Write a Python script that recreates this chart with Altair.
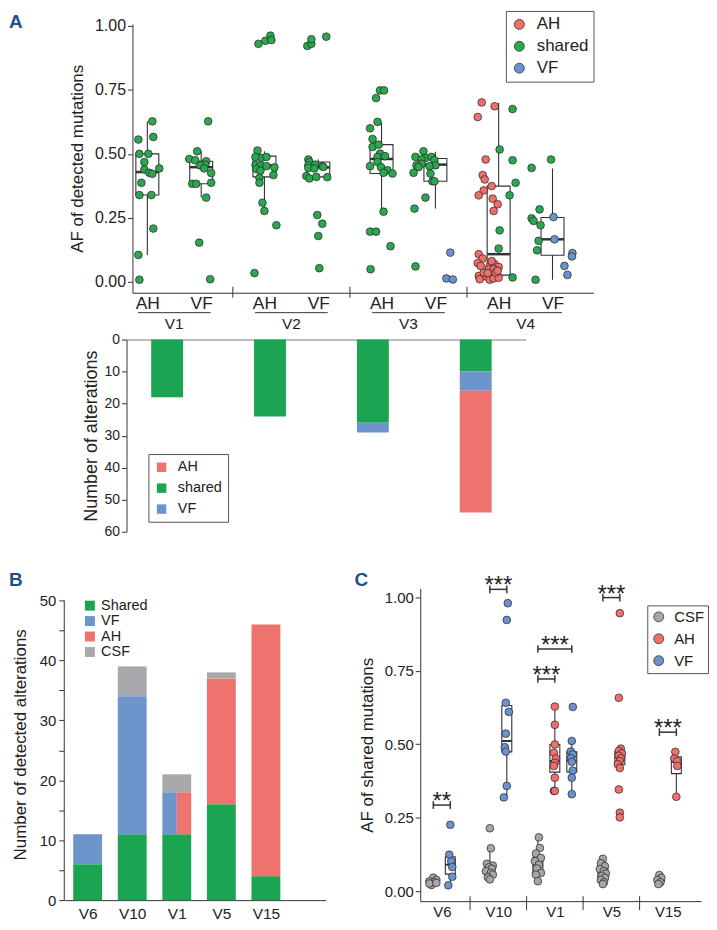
import json
import altair as alt
import pandas as pd

FONT = "Liberation Sans"
INK = "#333333"
PANEL_BLUE = "#1d4f8d"
RED, GREEN, BLUE, GRAY = "#EE736E", "#1BA552", "#6E95CB", "#A9A9AD"
DOT_RED, DOT_GREEN, DOT_BLUE, DOT_GRAY = "#EF6F6A", "#2BA84F", "#6A93CD", "#A6A6A6"

# =============== Panel A (top): AF of detected mutations ===============
a_groups = ["V1", "V2", "V3", "V4"]
a_sub_group = ["V1", "V1", "V2", "V2", "V3", "V3", "V4", "V4"]
a_sub_tissue = ["AH", "VF", "AH", "VF", "AH", "VF", "AH", "VF"]
a_box_lo = [0.105, 0.329, 0.277, 0.404, 0.274, 0.286, 0.008, 0.008]
a_box_q1 = [0.339, 0.383, 0.410, 0.410, 0.423, 0.393, 0.026, 0.104]
a_box_med = [0.429, 0.448, 0.455, 0.447, 0.480, 0.458, 0.108, 0.166]
a_box_q3 = [0.500, 0.471, 0.491, 0.468, 0.536, 0.482, 0.374, 0.251]
a_box_hi = [0.627, 0.510, 0.510, 0.478, 0.621, 0.508, 0.699, 0.443]

v1_ah_af = [0.627, 0.556, 0.566, 0.50, 0.50, 0.468, 0.439, 0.426, 0.422, 0.443, 0.387, 0.339, 0.339, 0.208, 0.105, 0.008]
v1_ah_dx = [5, -9, 6, -8, 1, -3, -3, 2, 5, 12, -6, -8, 4, 6, -9, -8]
v1_vf_af = [0.627, 0.51, 0.48, 0.475, 0.471, 0.458, 0.455, 0.443, 0.425, 0.383, 0.383, 0.387, 0.329, 0.153, 0.01]
v1_vf_dx = [7, -4, -12, -6, 5, 4, -1, 3, 10, -9, -5, 10, 5, -2, 9]
v2_ah_af = [0.93, 0.942, 0.962, 0.945, 0.513, 0.484, 0.488, 0.488, 0.456, 0.455, 0.452, 0.447, 0.441, 0.434, 0.417, 0.406, 0.387, 0.309, 0.277, 0.221, 0.034]
v2_ah_dx = [-6, 1, 6, 7, -7, -3, 2, -9, -9, -4, 2, 10, -8, -4, 9, -5, -5, -2, 0, 12, -10]
v2_vf_af = [0.922, 0.93, 0.948, 0.958, 0.478, 0.468, 0.458, 0.455, 0.452, 0.445, 0.443, 0.449, 0.413, 0.404, 0.41, 0.409, 0.261, 0.227, 0.179, 0.053]
v2_vf_dx = [-11, -7, -7, 8, -10, -9, -3, -10, 4, -10, -4, 5, -12, -9, -2, 9, -1, 4, 0, 1]
v3_ah_af = [0.748, 0.748, 0.718, 0.625, 0.60, 0.558, 0.527, 0.536, 0.501, 0.488, 0.491, 0.468, 0.452, 0.448, 0.436, 0.426, 0.423, 0.274, 0.196, 0.196, 0.139, 0.049]
v3_ah_dx = [-1.5, 2.5, -5.5, -4, -11.5, -9, -9, -3, -1.5, -4, 3.5, -4, -11.5, -0.5, 6, 2, 11, 2, -11.5, -5.5, 9, -11]
v3_vf_af = [0.51, 0.488, 0.484, 0.488, 0.478, 0.475, 0.461, 0.455, 0.448, 0.455, 0.452, 0.426, 0.423, 0.393, 0.393, 0.329, 0.286, 0.06]
v3_vf_dx = [-12, -20, -10, -4, -14, -1, -14, -19, -17, 0, -6, -22, -5, -3, -1, -10, -21, -20]
v3_vf_only_af = [0.114, 0.013, 0.009]
v3_vf_only_dx = [15, 11, 17.5]
v4_ah_only_af = [0.701, 0.686, 0.644, 0.478, 0.417, 0.40, 0.357, 0.374, 0.338, 0.325, 0.303, 0.277, 0.108, 0.091, 0.073, 0.062, 0.069, 0.058, 0.049, 0.049, 0.023, 0.021, 0.021, 0.021, 0.01, 0.008, 0.013, 0.016, 0.036, 0.034, 0.036, 0.081, 0.062, 0.043]
v4_ah_only_dx = [-17, -4, -21, -13, -16, -14, -15, -7, -20, -6, -1, -5, -20, -16, -21, -9, -4, 0, -10, -5, -20, -13, -8, -1, -19, -9, -5, 0, -15, -11, -3, -7, -18, -1]
v4_ah_af = [0.675, 0.517, 0.475, 0.387, 0.338, 0.201, 0.13, 0.017]
v4_ah_dx = [14, 1, 14, 17, 11, 1, 0, 14]
v4_vf_af = [0.478, 0.445, 0.283, 0.248, 0.238, 0.221, 0.16, 0.123, 0.008]
v4_vf_dx = [-1.5, -21, -13, -21, -19, -12, -14, -15.5, -17]
v4_vf_only_af = [0.253, 0.166, 0.112, 0.099, 0.062, 0.027]
v4_vf_only_dx = [1, 2, 20, 19.5, 12, 15]

a_blocks = [
    ("V1", "AH", "shared", v1_ah_af, v1_ah_dx),
    ("V1", "VF", "shared", v1_vf_af, v1_vf_dx),
    ("V2", "AH", "shared", v2_ah_af, v2_ah_dx),
    ("V2", "VF", "shared", v2_vf_af, v2_vf_dx),
    ("V3", "AH", "shared", v3_ah_af, v3_ah_dx),
    ("V3", "VF", "shared", v3_vf_af, v3_vf_dx),
    ("V3", "VF", "VF", v3_vf_only_af, v3_vf_only_dx),
    ("V4", "AH", "AH", v4_ah_only_af, v4_ah_only_dx),
    ("V4", "AH", "shared", v4_ah_af, v4_ah_dx),
    ("V4", "VF", "shared", v4_vf_af, v4_vf_dx),
    ("V4", "VF", "VF", v4_vf_only_af, v4_vf_only_dx),
]

# =============== Panel A (bottom): number of alterations ===============
ab_groups = ["V1", "V2", "V3", "V4"]
ab_shared = [18, 24, 26, 10]
ab_vf = [0, 0, 3, 6]
ab_ah = [0, 0, 0, 38]

# =============== Panel B: number of detected alterations ===============
b_samples = ["V6", "V10", "V1", "V5", "V15"]
b_shared = [6, 11, 11, 16, 4]
b_vf = [5, 23, 7, 0, 0]
b_ah = [0, 0, 7, 21, 42]
b_csf = [0, 5, 3, 1, 0]

# =============== Panel C: AF of shared mutations ===============
c_groups = ["V6", "V10", "V1", "V5", "V15"]
c_sub_group = ["V6", "V6", "V10", "V10", "V1", "V1", "V1", "V5", "V5", "V15", "V15"]
c_sub_tissue = ["CSF", "VF", "CSF", "VF", "CSF", "AH", "VF", "CSF", "AH", "CSF", "AH"]
c_values = [
    [0.046, 0.038, 0.033, 0.030, 0.021, 0.026, 0.028],
    [0.226, 0.124, 0.102, 0.082, 0.049, 0.020],
    [0.214, 0.146, 0.093, 0.087, 0.081, 0.076, 0.068, 0.062, 0.056, 0.047, 0.040],
    [0.98, 0.923, 0.641, 0.61, 0.536, 0.49, 0.475, 0.358, 0.319],
    [0.183, 0.147, 0.128, 0.113, 0.102, 0.090, 0.077, 0.062, 0.056, 0.034],
    [0.628, 0.566, 0.499, 0.471, 0.451, 0.437, 0.426, 0.386, 0.341, 0.341],
    [0.627, 0.511, 0.475, 0.465, 0.452, 0.44, 0.41, 0.386, 0.33],
    [0.110, 0.095, 0.085, 0.075, 0.068, 0.060, 0.052, 0.045, 0.038, 0.030, 0.024],
    [0.946, 0.658, 0.485, 0.477, 0.469, 0.461, 0.452, 0.443, 0.432, 0.419, 0.346, 0.267, 0.251],
    [0.055, 0.045, 0.038, 0.030, 0.024],
    [0.474, 0.451, 0.442, 0.426, 0.321],
]
c_dx = [
    [0, 3, -4, 1, -2, -4, 3],
    [0, -1, 1, 2, 2, -2],
    [0, 1, -3, 3, -1, 2, -4, 1, 3, -2, 0],
    [1, 0, -1, 2, -1, -2, -1, 0, -3],
    [1, 2, -2, 3, -3, 1, -1, 3, -2, 0],
    [0, 0, 0, -1, 1, 0, -1, 0, -1, 0],
    [1, 0, -1, 1, -1, 0, 1, 0, 0],
    [0, -2, 2, -3, 1, 3, -1, 2, -2, 1, 0],
    [0, -1, 1, -1, 2, -1, 1, 0, -2, 0, -1, 0, 0],
    [0, 2, -2, 1, -1],
    [-1, -2, 1, 1, 0],
]
c_box_lo = [0.018, 0.020, 0.040, 0.319, 0.034, 0.341, 0.330, 0.024, 0.410, 0.024, 0.321]
c_box_q1 = [0.022, 0.058, 0.050, 0.474, 0.060, 0.405, 0.406, 0.038, 0.430, 0.032, 0.400]
c_box_med = [0.030, 0.090, 0.068, 0.511, 0.090, 0.443, 0.445, 0.050, 0.455, 0.040, 0.440]
c_box_q3 = [0.038, 0.117, 0.093, 0.632, 0.114, 0.499, 0.474, 0.078, 0.475, 0.045, 0.457]
c_box_hi = [0.046, 0.124, 0.146, 0.641, 0.183, 0.628, 0.511, 0.110, 0.485, 0.055, 0.474]
sig_group = ["V6", "V10", "V1", "V1", "V5", "V15"]
sig_to = ["VF", "VF", "AH", "VF", "AH", "AH"]
sig_y = [0.293, 1.027, 0.722, 0.824, 0.999, 0.541]
sig_text = ["**", "***", "***", "***", "***", "***"]


def panel_label(letter, dx, dy):
    # dy is the alphabetic baseline of the bold panel letter
    return alt.Chart(pd.DataFrame({"t": [letter]})).mark_text(
        align="left", baseline="alphabetic", fontSize=19, fontWeight="bold", color=PANEL_BLUE
    ).encode(text="t:N", x=alt.value(dx), y=alt.value(dy))


def anchor(dx, dy):
    # invisible zero-width rule that only fixes the bounds of a panel
    return alt.Chart(pd.DataFrame({"t": [0]})).mark_rule(opacity=0, strokeWidth=0).encode(
        x=alt.value(dx), x2=alt.value(dx), y=alt.value(dy), y2=alt.value(dy + 1))


def spacer():
    return alt.Chart(pd.DataFrame({"t": [0]})).mark_rule(opacity=0, strokeWidth=0).encode(
        x=alt.value(0), x2=alt.value(0), y=alt.value(0), y2=alt.value(1)).properties(width=1, height=1)


# ---------------------------------------------------------------- A top
W1, H1 = 463, 270
A_STEP = 117.6  # px per group (for jitter)


def a_pos(group, tissue):
    return a_groups.index(group) + 1 + (-0.23 if tissue == "AH" else 0.23)


rows = []
for grp, tis, typ, afs, dxs in a_blocks:
    for v, d in zip(afs, dxs):
        rows.append({"x": a_pos(grp, tis) + d / A_STEP, "af": v, "type": typ})
a_pts = pd.DataFrame(rows)

a_box = pd.DataFrame({
    "pos": [a_pos(g, t) for g, t in zip(a_sub_group, a_sub_tissue)],
    "lo": a_box_lo, "q1": a_box_q1, "med": a_box_med, "q3": a_box_q3, "hi": a_box_hi,
})
a_box["xl"] = a_box["pos"] - 0.098
a_box["xr"] = a_box["pos"] + 0.098
a_grp = pd.DataFrame({"g": list(range(1, len(a_groups) + 1)), "name": a_groups})
a_grp["ul"] = a_grp["g"] - 0.31
a_grp["ur"] = a_grp["g"] + 0.31
a_sep = pd.DataFrame({"b": [i + 0.5 for i in range(1, len(a_groups))]})

XA_SCALE = alt.Scale(domain=[0.643, 4.58], nice=False, zero=False)
XA_AXIS = alt.Axis(
    values=sorted(a_box["pos"].tolist()),
    labelExpr="(datum.value % 1) > 0.5 ? 'AH' : 'VF'",
    ticks=False, labelFontSize=17.5, labelPadding=2, labelOverlap=False,
    labelFlush=False, title=None, grid=False,
)
YA_SCALE = alt.Scale(domain=[-0.0428, 1.008], nice=False, zero=False)
YA_AXIS = alt.Axis(
    values=[0, 0.25, 0.5, 0.75, 1.0], format=".2f", title="AF of detected mutations",
    titleFontSize=17, labelFontSize=16, tickSize=5, labelPadding=2, titlePadding=8, grid=False,
)


def xa(f):
    return alt.X(f"{f}:Q", scale=XA_SCALE, axis=XA_AXIS)


def ya(f):
    return alt.Y(f"{f}:Q", scale=YA_SCALE, axis=YA_AXIS)


a_top = alt.layer(
    alt.Chart(a_sep).mark_rule(color=INK).encode(x=xa("b"), y=alt.value(H1 - 6), y2=alt.value(H1 + 5)),
    alt.Chart(a_box).mark_rule(color=INK, strokeWidth=1.1).encode(x=xa("pos"), y=ya("lo"), y2="hi"),
    alt.Chart(a_box).mark_rect(fill="white", stroke=INK, strokeWidth=1.1).encode(x=xa("xl"), x2="xr", y=ya("q1"), y2="q3"),
    alt.Chart(a_box).mark_rule(color=INK, strokeWidth=2.5).encode(x=xa("xl"), x2="xr", y=ya("med")),
    alt.Chart(a_pts).mark_circle(size=60, stroke="#222222", strokeWidth=0.7, opacity=1).encode(
        x=xa("x"), y=ya("af"),
        color=alt.Color("type:N", scale=alt.Scale(domain=["AH", "shared", "VF"], range=[DOT_RED, DOT_GREEN, DOT_BLUE]),
                        legend=alt.Legend(title=None, orient="none", legendX=375, legendY=-13, strokeColor="#555555",
                                          fillColor="white", padding=5, labelFontSize=17, symbolType="circle",
                                          symbolSize=100, symbolStrokeColor="#333333", symbolStrokeWidth=0.8,
                                          rowPadding=4, labelOffset=9)),
    ),
    alt.Chart(a_grp).mark_rule(color=INK).encode(x=xa("ul"), x2="ur", y=alt.value(H1 + 20)),
    alt.Chart(a_grp).mark_text(fontSize=15.5, color="#222222").encode(x=xa("g"), y=alt.value(H1 + 31), text="name:N"),
    panel_label("A", -124, 4),
).properties(width=W1, height=H1)

# ---------------------------------------------------------------- A bottom
W2, H2 = 401, 193
ab_rows = []
for i, g in enumerate(ab_groups):
    for kind, vals, o in (("shared", ab_shared, 0), ("VF", ab_vf, 1), ("AH", ab_ah, 2)):
        ab_rows.append({"grp": g, "kind": kind, "n": vals[i], "ord": o})
ab_df = pd.DataFrame(ab_rows)

a_bottom = alt.layer(
    alt.Chart(ab_df).mark_bar().encode(
        x=alt.X("grp:N", sort=ab_groups,
                scale=alt.Scale(paddingInner=0.69, paddingOuter=0.286, align=0.42),
                axis=alt.Axis(orient="top", labels=False, ticks=False, title=None, domainColor="#777777")),
        y=alt.Y("n:Q", stack="zero", scale=alt.Scale(domain=[0, 60], reverse=True, nice=False),
                axis=alt.Axis(values=list(range(0, 61, 10)), title="Number of alterations", titleFontSize=18,
                              labelFontSize=14, tickSize=5, labelPadding=2, titlePadding=4, grid=False)),
        color=alt.Color("kind:N", scale=alt.Scale(domain=["AH", "shared", "VF"], range=[RED, GREEN, BLUE]),
                        legend=alt.Legend(title=None, orient="none", legendX=22, legendY=115, strokeColor="#555555",
                                          fillColor="white", padding=6, labelFontSize=14.5, symbolType="square",
                                          symbolSize=90, symbolStrokeWidth=0, rowPadding=6, labelOffset=9)),
        order=alt.Order("ord:Q"),
    ),
    anchor(-118, 100),
    anchor(0, H2 + 39),
).properties(width=W2, height=H2)

# ---------------------------------------------------------------- B
WB, HB = 263, 313
B_TOP = 52  # scale top so that the plot top lines up with panel C
BAR_HALF = 0.324
b_rows = []
for i, s in enumerate(b_samples):
    c = i + 1
    y0 = 0
    b_rows.append({"x1": c - BAR_HALF, "x2": c + BAR_HALF, "y1": y0, "y2": y0 + b_shared[i], "src": "Shared"})
    y0 += b_shared[i]
    if b_vf[i] > 0 and b_ah[i] > 0:
        b_rows.append({"x1": c - BAR_HALF, "x2": c, "y1": y0, "y2": y0 + b_vf[i], "src": "VF"})
        b_rows.append({"x1": c, "x2": c + BAR_HALF, "y1": y0, "y2": y0 + b_ah[i], "src": "AH"})
        y0 += max(b_vf[i], b_ah[i])
    else:
        for name, vals in (("VF", b_vf), ("AH", b_ah)):
            if vals[i] > 0:
                b_rows.append({"x1": c - BAR_HALF, "x2": c + BAR_HALF, "y1": y0, "y2": y0 + vals[i], "src": name})
                y0 += vals[i]
    if b_csf[i] > 0:
        b_rows.append({"x1": c - BAR_HALF, "x2": c + BAR_HALF, "y1": y0, "y2": y0 + b_csf[i], "src": "CSF"})
b_df = pd.DataFrame(b_rows)

XB_SCALE = alt.Scale(domain=[0.464, 6.34], nice=False, zero=False)
YB_SCALE = alt.Scale(domain=[0, B_TOP], nice=False)
YB_AXIS = alt.Axis(values=list(range(0, 51, 5)),
                   labelExpr="datum.value % 10 == 0 ? datum.label : ''",
                   title="Number of detected alterations", titleFontSize=17, labelFontSize=15,
                   tickSize=5, labelPadding=3, titlePadding=10, grid=False, domain=False)

b_chart = alt.layer(
    alt.Chart(b_df).mark_bar().encode(
        x=alt.X("x1:Q", scale=XB_SCALE,
                axis=alt.Axis(values=list(range(1, len(b_samples) + 1)),
                              labelExpr=json.dumps(b_samples) + "[round(datum.value) - 1]",
                              ticks=False, labelFontSize=15.5, labelPadding=6, title=None,
                              labelFlush=False, grid=False)),
        x2="x2:Q",
        y=alt.Y("y1:Q", scale=YB_SCALE, axis=YB_AXIS),
        y2="y2:Q",
        color=alt.Color("src:N", scale=alt.Scale(domain=["Shared", "VF", "AH", "CSF"], range=[GREEN, BLUE, RED, GRAY]),
                        legend=alt.Legend(title=None, orient="none", legendX=19, legendY=10, padding=0,
                                          labelFontSize=14.5, symbolType="square", symbolSize=100,
                                          symbolStrokeWidth=0, rowPadding=0.5, labelOffset=4)),
    ),
    # y-axis line, drawn only over the 0-50 ticked range
    alt.Chart(pd.DataFrame({"lo": [0], "hi": [50]})).mark_rule(color=INK).encode(
        x=alt.value(0.5), y=alt.Y("lo:Q", scale=YB_SCALE, axis=YB_AXIS), y2="hi:Q"),
    panel_label("B", -55, -2),
).properties(width=WB, height=HB)

# ---------------------------------------------------------------- C
WC, HC = 282, 314
C_STEP = 56.75
OFFSETS = {2: [-0.15, 0.15], 3: [-0.3, 0.0, 0.3]}


def c_pos(group, tissue):
    members = [t for g, t in zip(c_sub_group, c_sub_tissue) if g == group]
    return c_groups.index(group) + 1 + OFFSETS[len(members)][members.index(tissue)]


c_rows = []
for g, t, vals, dxs in zip(c_sub_group, c_sub_tissue, c_values, c_dx):
    for v, d in zip(vals, dxs):
        c_rows.append({"x": c_pos(g, t) + d / C_STEP, "af": v, "tissue": t})
c_pts = pd.DataFrame(c_rows)
c_box = pd.DataFrame({
    "pos": [c_pos(g, t) for g, t in zip(c_sub_group, c_sub_tissue)],
    "lo": c_box_lo, "q1": c_box_q1, "med": c_box_med, "q3": c_box_q3, "hi": c_box_hi,
})
c_box["xl"] = c_box["pos"] - 0.088
c_box["xr"] = c_box["pos"] + 0.088
c_sig = pd.DataFrame({
    "x1": [c_pos(g, "CSF") for g in sig_group],
    "x2": [c_pos(g, t) for g, t in zip(sig_group, sig_to)],
    "y": sig_y, "label": sig_text,
})
c_sig["xm"] = (c_sig["x1"] + c_sig["x2"]) / 2
c_caps = pd.DataFrame({
    "x": c_sig["x1"].tolist() + c_sig["x2"].tolist(),
    "ylo": [y - 0.013 for y in sig_y] * 2,
    "yhi": [y + 0.013 for y in sig_y] * 2,
})
c_sep = pd.DataFrame({"b": [i + 0.5 for i in range(1, len(c_groups))]})

XC_SCALE = alt.Scale(domain=[0.618, 5.587], nice=False, zero=False)
XC_AXIS = alt.Axis(values=list(range(1, len(c_groups) + 1)),
                   labelExpr=json.dumps(c_groups) + "[round(datum.value) - 1]",
                   ticks=False, labelFontSize=15, labelPadding=3, title=None, labelFlush=False, grid=False)
YC_SCALE = alt.Scale(domain=[-0.034, 1.03], nice=False, zero=False)
YC_AXIS = alt.Axis(values=[0, 0.25, 0.5, 0.75, 1.0], format=".2f", title="AF of shared mutations",
                   titleFontSize=17, labelFontSize=15, tickSize=5, labelPadding=2, titlePadding=8, grid=False)


def xc(f):
    return alt.X(f"{f}:Q", scale=XC_SCALE, axis=XC_AXIS)


def yc(f):
    return alt.Y(f"{f}:Q", scale=YC_SCALE, axis=YC_AXIS)


c_chart = alt.layer(
    alt.Chart(c_sep).mark_rule(color=INK).encode(x=xc("b"), y=alt.value(HC - 5), y2=alt.value(HC + 9)),
    alt.Chart(c_box).mark_rule(color=INK, strokeWidth=1.1).encode(x=xc("pos"), y=yc("lo"), y2="hi"),
    alt.Chart(c_box).mark_rect(fill="white", stroke=INK, strokeWidth=1.1).encode(x=xc("xl"), x2="xr", y=yc("q1"), y2="q3"),
    alt.Chart(c_box).mark_rule(color=INK, strokeWidth=2).encode(x=xc("xl"), x2="xr", y=yc("med")),
    alt.Chart(c_pts).mark_circle(size=60, stroke="#222222", strokeWidth=0.7, opacity=1).encode(
        x=xc("x"), y=yc("af"),
        color=alt.Color("tissue:N", scale=alt.Scale(domain=["CSF", "AH", "VF"], range=[DOT_GRAY, DOT_RED, DOT_BLUE]),
                        legend=alt.Legend(title=None, orient="none", legendX=228, legendY=17, strokeColor="#555555",
                                          fillColor="white", padding=4, labelFontSize=15, symbolType="circle",
                                          symbolSize=100, symbolStrokeColor="#333333", symbolStrokeWidth=0.8,
                                          rowPadding=6, labelOffset=8)),
    ),
    alt.Chart(c_sig).mark_rule(color=INK, strokeWidth=1.5).encode(x=xc("x1"), x2="x2", y=yc("y")),
    alt.Chart(c_caps).mark_rule(color=INK, strokeWidth=1.5).encode(x=xc("x"), y=yc("ylo"), y2="yhi"),
    alt.Chart(c_sig).mark_text(fontSize=24, baseline="alphabetic", dy=4, color="#222222").encode(
        x=xc("xm"), y=yc("y"), text="label:N"),
    panel_label("C", -66, -2),
    anchor(-95, 0),
).properties(width=WC, height=HC)

# ---------------------------------------------------------------- layout
# every row starts with a 1px spacer, so that each row's left bound sits at the page edge
row1 = alt.hconcat(spacer(), a_top, spacing=0).resolve_scale(color="independent")
row2 = alt.hconcat(spacer(), a_bottom, spacing=0).resolve_scale(color="independent")
row3 = alt.hconcat(spacer(), b_chart, c_chart, spacing=0).resolve_scale(color="independent")
chart = (
    alt.vconcat(row1, row2, row3, spacing=0)
    .resolve_scale(color="independent")
    .properties(padding=0)
    .configure(font=FONT)
    .configure_view(stroke=None)
    .configure_axis(domainColor=INK, tickColor=INK, labelColor="#222222", titleColor="#222222",
                    titleFontWeight="normal", labelFont=FONT, titleFont=FONT, grid=False)
    .configure_legend(labelFont=FONT, labelColor="#222222")
)

chart.save("out.html", embed_options={"renderer": "svg", "actions": False})
